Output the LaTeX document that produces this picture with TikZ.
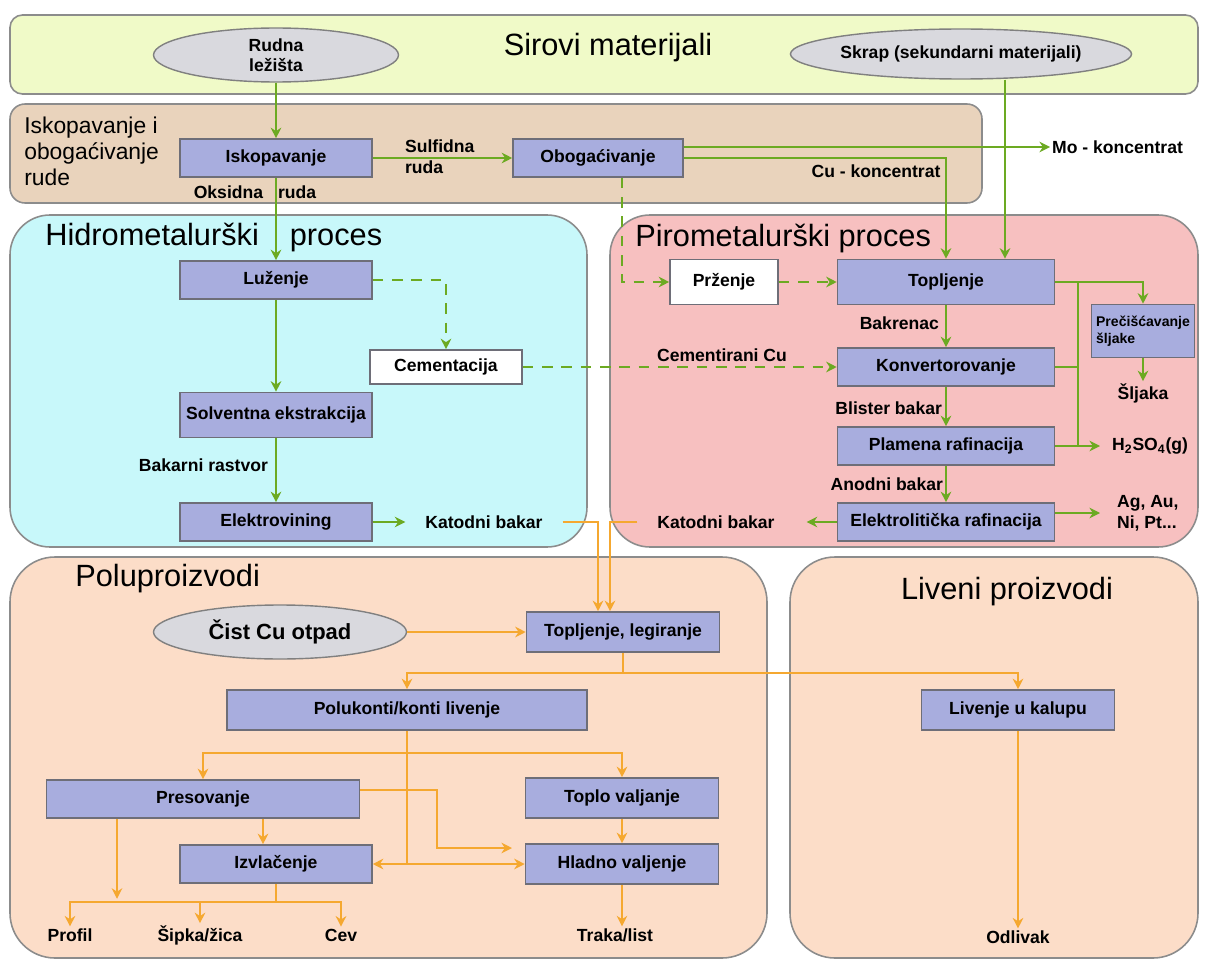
\documentclass[tikz,border=0pt]{standalone}
\usepackage{fontspec}
\setmainfont{Liberation Sans}
\usepackage{tikz}
\usetikzlibrary{shapes,arrows.meta}
\definecolor{sirc}{RGB}{240,250,200}
\definecolor{iskc}{RGB}{233,211,188}
\definecolor{hidc}{RGB}{200,248,250}
\definecolor{pirc}{RGB}{247,192,192}
\definecolor{polc}{RGB}{252,221,200}
\definecolor{blkc}{RGB}{168,173,222}
\definecolor{elc}{RGB}{217,217,222}
\definecolor{grn}{RGB}{108,170,34}
\definecolor{org}{RGB}{245,168,48}
\definecolor{brd}{RGB}{110,110,120}
\tikzset{ell/.style={ellipse,draw=gray,fill=elc,line width=0.8pt,inner sep=0pt,font=\bfseries\fontsize{10}{11.5}\selectfont,align=center}}
\tikzset{blk/.style={rectangle,draw=brd,fill=blkc,line width=0.9pt,inner sep=2pt,minimum width=3.84cm,minimum height=0.76cm,font=\bfseries\fontsize{10}{12}\selectfont,align=center}}
\tikzset{wblk/.style={blk,fill=white}}
\tikzset{lbl/.style={inner sep=1pt,font=\bfseries\fontsize{10}{12}\selectfont,align=left}}
\tikzset{ttl/.style={inner sep=0pt,font=\fontsize{17.5}{20}\selectfont}}
\tikzset{zona/.style={draw=gray!90,line width=0.9pt}}
\tikzset{garr/.style={grn,line width=1.4pt,->}}
\tikzset{gdash/.style={garr,dash pattern=on 6pt off 5pt}}
\tikzset{gline/.style={grn,line width=1.4pt}}
\tikzset{oarr/.style={org,line width=1.4pt,->}}
\tikzset{oline/.style={org,line width=1.4pt}}

\begin{document}
\begin{tikzpicture}[>={Stealth[length=6pt,width=6pt]},x=0.02cm,y=-0.02cm]
        \useasboundingbox (0,0) rectangle (1207,963);

        % podloge
        \draw[zona,fill=sirc,rounded corners=0.25cm] (10,15) rectangle (1198,94);
        \draw[zona,fill=iskc,rounded corners=0.3cm] (10,104) rectangle (982,203);
        \draw[zona,fill=hidc,rounded corners=0.8cm] (10,215) rectangle (587,547);
        \draw[zona,fill=pirc,rounded corners=0.8cm] (610,215) rectangle (1198,547);
        \draw[zona,fill=polc,rounded corners=0.9cm] (10,557) rectangle (767,958);
        \draw[zona,fill=polc,rounded corners=0.9cm] (790,557) rectangle (1198,958);

        \node[ttl] (t1) at (608,48) {Sirovi materijali};
        \node[inner sep=0pt,anchor=north west,align=left,font=\fontsize{13}{14.8}\selectfont] (t2) at (24,117) {Iskopavanje i\\obogaćivanje\\rude};
        \node[ttl,anchor=west] (t3) at (45,237) {Hidrometalurški\hspace{0.62cm}proces};
        \node[ttl,anchor=west] (t4) at (635,238) {Pirometalurški proces};
        \node[ttl,anchor=west] (t5) at (75,579) {Poluproizvodi};
        \node[ttl] (t6) at (1007,592) {Liveni proizvodi};

        % gornji deo
        \node[ell,minimum width=4.9cm,minimum height=1.08cm] (rud) at (276,55) {Rudna\\ležišta};
        \node[ell,minimum width=6.4cm,minimum height=1cm] (skr) at (961,54) {Skrap (sekundarni materijali)};
        \node[blk] (isk) at (276,158) {Iskopavanje};
        \node[blk,minimum width=3.4cm] (obo) at (598,158) {Obogaćivanje};
        \node[lbl,anchor=west] (mo) at (1050,147) {Mo - koncentrat};
        \node[lbl,anchor=west] (sul) at (403,157) {Sulfidna\\ruda};
        \node[lbl] (oks) at (255,192) {Oksidna\hspace{0.3cm}ruda};
        \node[lbl] (cuk) at (876,171) {Cu - koncentrat};

        % hidrometalurgija
        \node[blk] (luz) at (276,280) {Luženje};
        \node[wblk,minimum width=3.04cm,minimum height=0.68cm] (cem) at (446,367) {Cementacija};
        \node[blk,minimum height=0.9cm] (sol) at (276,415) {Solventna ekstrakcija};
        \node[blk] (elv) at (276,522) {Elektrovining};
        \node[lbl,anchor=east] (bra) at (270,465) {Bakarni rastvor};
        \node[lbl] (kat1) at (484,522) {Katodni bakar};

        % pirometalurgija
        \node[wblk,minimum width=2.16cm,minimum height=0.9cm] (prz) at (724,282) {Prženje};
        \node[blk,minimum width=4.34cm,minimum height=0.9cm] (top) at (946,282) {Topljenje};
        \node[blk,minimum width=4.34cm] (kon) at (946,367) {Konvertorovanje};
        \node[blk,minimum width=4.34cm] (pla) at (946,446) {Plamena rafinacija};
        \node[blk,minimum width=4.34cm] (ele) at (946,522) {Elektrolitička rafinacija};
        \node[blk,minimum width=2.06cm,minimum height=1.06cm,font=\bfseries\fontsize{8}{9.5}\selectfont,align=left] (pre) at (1143,331) {Prečišćavanje\\šljake};
        \node[lbl] (slj) at (1143,393) {Šljaka};
        \node[lbl,anchor=west] (h2s) at (1110,446) {H\textsubscript{2}SO\textsubscript{4}(g)};
        \node[lbl,anchor=west] (ag) at (1115,513) {Ag, Au,\\Ni, Pt...};
        \node[lbl] (kat2) at (716,522) {Katodni bakar};
        \node[lbl] (cmc) at (722,355) {Cementirani Cu};
        \node[lbl,anchor=east] (bkr) at (941,323) {Bakrenac};
        \node[lbl,anchor=east] (bli) at (944,408) {Blister bakar};
        \node[lbl,anchor=east] (ano) at (945,484) {Anodni bakar};

        % poluproizvodi i liveni proizvodi
        \node[ell,minimum width=5.06cm,minimum height=1.08cm,font=\bfseries\fontsize{12.5}{14}\selectfont] (cist) at (280,632) {Čist Cu otpad};
        \node[blk,minimum width=3.86cm,minimum height=0.8cm] (tl) at (623,632) {Topljenje, legiranje};
        \node[blk,minimum width=7.2cm,minimum height=0.8cm] (pol) at (407,710) {Polukonti/konti livenje};
        \node[blk,minimum width=3.86cm,minimum height=0.8cm] (liv) at (1018,710) {Livenje u kalupu};
        \node[blk,minimum width=6.26cm] (prs) at (203,799) {Presovanje};
        \node[blk,minimum width=3.86cm,minimum height=0.8cm] (tv) at (622,798) {Toplo valjanje};
        \node[blk] (izv) at (276,864) {Izvlačenje};
        \node[blk,minimum width=3.86cm,minimum height=0.8cm] (hla) at (622,864) {Hladno valjenje};
        \node[lbl] (pro) at (70,935) {Profil};
        \node[lbl] (sip) at (200,935) {Šipka/žica};
        \node[lbl] (cev) at (341,935) {Cev};
        \node[lbl] (trk) at (615,935) {Traka/list};
        \node[lbl] (odl) at (1018,937) {Odlivak};

        % zelene veze
        \draw [garr] (rud) to (isk);
        \draw [garr] (isk) to (obo);
        \draw [garr] (isk) to (luz);
        \draw [garr] (obo.east |- mo) to (mo);
        \draw [garr] (obo.east) -| (top.north);
        \draw [garr] ([xshift=0.88cm]skr.south) -- ([xshift=0.88cm]skr.south |- top.north);
        \draw [gdash] ([xshift=0.48cm]obo.south) |- (prz.west);
        \draw [gdash] (prz) to (top);
        \draw [gdash] (luz.east) -| (cem.north);
        \draw [gdash] (cem) to (kon);
        \draw [garr] (luz) to (sol);
        \draw [garr] (sol) to (elv);
        \draw [garr,shorten >=0.36cm] (elv) to (kat1);
        \draw [garr] (top) to (kon);
        \draw [garr] (kon) to (pla);
        \draw [garr] (pla) to (ele);
        \draw [garr,shorten >=0.6cm] (ele) to (kat2);
        \draw [garr] (top.east) -| (pre.north);
        \coordinate (jt) at (1078,282);
        \coordinate (jb) at (1078,446);
        \draw [gline] (jt) -- (jb);
        \draw [gline] (kon.east) -- (kon.east -| jt);
        \draw [garr,shorten >=0.2cm] (pla.east) -- (h2s.west);
        \draw [garr] (pre) to (slj);
        \draw [garr,shorten >=0.3cm] (ele.east |- ag.west) -- (ag.west);

        % narandzaste veze
        \draw [oarr,shorten <=0.36cm] (kat1.east) -| ([xshift=-0.5cm]tl.north);
        \draw [oarr,shorten <=0.36cm] (kat2.west) -| ([xshift=-0.26cm]tl.north);
        \draw [oarr] (cist) to (tl);
        \draw [oarr] (tl.south) -- ++(0,20) -| (pol.north);
        \draw [oarr] (tl.south) -- ++(0,20) -| (liv.north);
        \coordinate (s2) at (407,753);
        \draw [oarr] (pol.south) |- (izv.east);
        \draw [oarr] (pol.south) |- (hla.west);
        \draw [oarr] (s2) -| (prs.north);
        \draw [oarr] (s2) -| (tv.north);
        \coordinate (hin) at (512,848);
        \draw [oarr] ([yshift=0.18cm]prs.east) -| ([xshift=-1.5cm]hin) -- (hin);
        \draw [oarr] ([xshift=-0.26cm]izv.north |- prs.south) -- ([xshift=-0.26cm]izv.north);
        \draw [oarr] ([xshift=-1.72cm]prs.south) -- ++(0,80);
        \coordinate (s3) at (276,902);
        \draw [oline] (izv.south) -- (s3);
        \draw [oarr] (s3) -| (pro.north);
        \draw [oarr] (s3) -| (sip.north);
        \draw [oarr] (s3) -| (cev.north);
        \draw [oarr] (tv) to (hla);
        \draw [oarr] (hla.south) -- (hla.south |- trk.north);
        \draw [oarr] (liv.south) -- (liv.south |- odl.north);
    \end{tikzpicture}
\end{document}
